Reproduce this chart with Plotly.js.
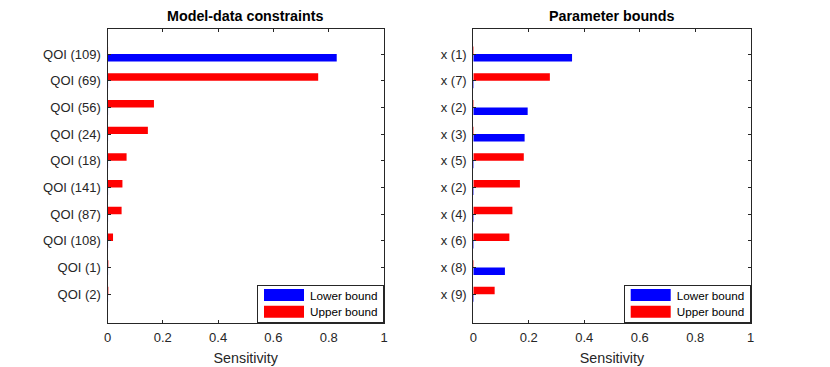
<!DOCTYPE html>
<html>
<head>
<meta charset="utf-8">
<script src="https://cdn.plot.ly/plotly-3.0.1.min.js"></script>
<style>
  html, body { margin: 0; padding: 0; background: #fff; }
  #chart { width: 830px; height: 367px; }
</style>
</head>
<body>
<div id="chart"></div>
<script>
// Left panel: model-data constraints (top to bottom)
var qoiLabels = ['QOI (109)', 'QOI (69)', 'QOI (56)', 'QOI (24)', 'QOI (18)',
                 'QOI (141)', 'QOI (87)', 'QOI (108)', 'QOI (1)', 'QOI (2)'];
var qoiLower = [0.829, 0.002, 0.002, 0.002, 0.002, 0.002, 0.002, 0.002, 0.002, 0.002];
var qoiUpper = [0.002, 0.762, 0.168, 0.146, 0.069, 0.054, 0.051, 0.020, 0.003, 0.003];

// Right panel: parameter bounds (top to bottom)
var paramLabels = ['x (1)', 'x (7)', 'x (2)', 'x (3)', 'x (5)',
                   'x (2)', 'x (4)', 'x (6)', 'x (8)', 'x (9)'];
var paramLower = [0.356, 0.002, 0.196, 0.185, 0.002, 0.002, 0.002, 0.002, 0.114, 0.002];
var paramUpper = [0.002, 0.276, 0.002, 0.002, 0.182, 0.168, 0.141, 0.130, 0.002, 0.077];

var xTicks = [0, 0.2, 0.4, 0.6, 0.8, 1];
var xTickText = ['0', '0.2', '0.4', '0.6', '0.8', '1'];

var FONT = 'Liberation Sans, Arial, Helvetica, sans-serif';
var INK = '#262626';
var BLUE = '#0000ff';
var RED = '#ff0000';

// first label sits at the top (numeric positions so repeated labels stay apart)
function positions(labels) {
    return labels.map(function (d, i) { return labels.length - i; });
}

var qoiPos = positions(qoiLabels);
var paramPos = positions(paramLabels);

var data = [
    { type: 'bar', orientation: 'h', name: 'Lower bound', x: qoiLower, y: qoiPos,
      xaxis: 'x', yaxis: 'y', marker: { color: BLUE, line: { width: 0 } }, legend: 'legend' },
    { type: 'bar', orientation: 'h', name: 'Upper bound', x: qoiUpper, y: qoiPos,
      xaxis: 'x', yaxis: 'y', marker: { color: RED, line: { width: 0 } }, legend: 'legend' },
    { type: 'bar', orientation: 'h', name: 'Lower bound', x: paramLower, y: paramPos,
      xaxis: 'x2', yaxis: 'y2', marker: { color: BLUE, line: { width: 0 } }, legend: 'legend2' },
    { type: 'bar', orientation: 'h', name: 'Upper bound', x: paramUpper, y: paramPos,
      xaxis: 'x2', yaxis: 'y2', marker: { color: RED, line: { width: 0 } }, legend: 'legend2' }
];

var W = 830, H = 367;
var leftDom = [107.5 / W, 384 / W];
var rightDom = [473.3 / W, 750.7 / W];
var yDom = [(H - 323.3) / H, (H - 29.3) / H];

function xAxis(dom, anchor) {
    return {
        domain: dom, anchor: anchor, range: [0, 1], tickvals: xTicks, ticktext: xTickText,
        ticks: 'inside', ticklen: 3, tickcolor: INK, tickwidth: 1,
        showline: true, linecolor: INK, linewidth: 1, mirror: 'ticks',
        showgrid: false, zeroline: false, automargin: false,
        ticklabelstandoff: 2,
        tickfont: { family: FONT, size: 13, color: INK },
        title: { text: 'Sensitivity', standoff: 9, font: { family: FONT, size: 14.3, color: INK } }
    };
}

function yAxis(anchor, pos, labels) {
    return {
        domain: yDom, anchor: anchor, range: [-0.085, 10.925],
        tickvals: pos, ticktext: labels,
        ticks: 'inside', ticklen: 3, tickcolor: INK, tickwidth: 1,
        showline: true, linecolor: INK, linewidth: 1, mirror: 'ticks',
        showgrid: false, zeroline: false, automargin: false,
        ticklabelstandoff: 3,
        tickfont: { family: FONT, size: 13, color: INK }
    };
}

function legendBox(xr) {
    return {
        x: xr, xanchor: 'right', y: yDom[0], yanchor: 'bottom',
        bgcolor: '#ffffff', bordercolor: INK, borderwidth: 1,
        traceorder: 'normal', itemwidth: 42,
        font: { family: FONT, size: 11.7, color: '#000000' }
    };
}

var layout = {
    width: W, height: H,
    margin: { l: 0, r: 0, t: 0, b: 0 },
    paper_bgcolor: '#ffffff', plot_bgcolor: '#ffffff',
    barmode: 'group', bargap: 0.44, bargroupgap: 0,
    font: { family: FONT, color: INK },
    xaxis: xAxis(leftDom, 'y'),
    yaxis: yAxis('x', qoiPos, qoiLabels),
    xaxis2: xAxis(rightDom, 'y2'),
    yaxis2: yAxis('x2', paramPos, paramLabels),
    legend: legendBox(leftDom[1]),
    legend2: legendBox(rightDom[1]),
    annotations: [
        { text: '<b>Model-data constraints</b>', xref: 'paper', yref: 'paper',
          x: (leftDom[0] + leftDom[1]) / 2, y: (H - 16) / H, xanchor: 'center', yanchor: 'middle',
          showarrow: false, font: { family: FONT, size: 14.3, color: '#000000' } },
        { text: '<b>Parameter bounds</b>', xref: 'paper', yref: 'paper',
          x: (rightDom[0] + rightDom[1]) / 2, y: (H - 16) / H, xanchor: 'center', yanchor: 'middle',
          showarrow: false, font: { family: FONT, size: 14.3, color: '#000000' } }
    ]
};

function translateY(el) {
    var m = /translate\(\s*([-\d.]+)[ ,]+([-\d.]+)/.exec(el.getAttribute('transform') || '');
    return m ? [parseFloat(m[1]), parseFloat(m[2])] : [0, 0];
}

Plotly.newPlot('chart', data, layout, { staticPlot: true, displayModeBar: false }).then(function (gd) {
    // MATLAB style legend: wide rectangular swatches and tighter rows
    ['legend', 'legend2'].forEach(function (id) {
        var g = gd.querySelector('g.' + id);
        if (!g) return;
        var sw = g.querySelectorAll('g.legendpoints path');
        for (var i = 0; i < sw.length; i++) {
            sw[i].setAttribute('d', 'M20,6H-20V-6H20Z');
        }
        var bg = g.querySelector('rect.bg');
        var oldH = parseFloat(bg.getAttribute('height'));
        var newH = 37.6;
        var items = g.querySelectorAll('g.traces');
        for (var j = 0; j < items.length; j++) {
            var t = translateY(items[j]);
            items[j].setAttribute('transform', 'translate(' + t[0] + ',' + (10.3 + j * 16.7) + ')');
        }
        bg.setAttribute('height', newH);
        var p = translateY(g);
        g.setAttribute('transform', 'translate(' + p[0] + ',' + (p[1] + oldH - newH) + ')');
    });
});
</script>
</body>
</html>
